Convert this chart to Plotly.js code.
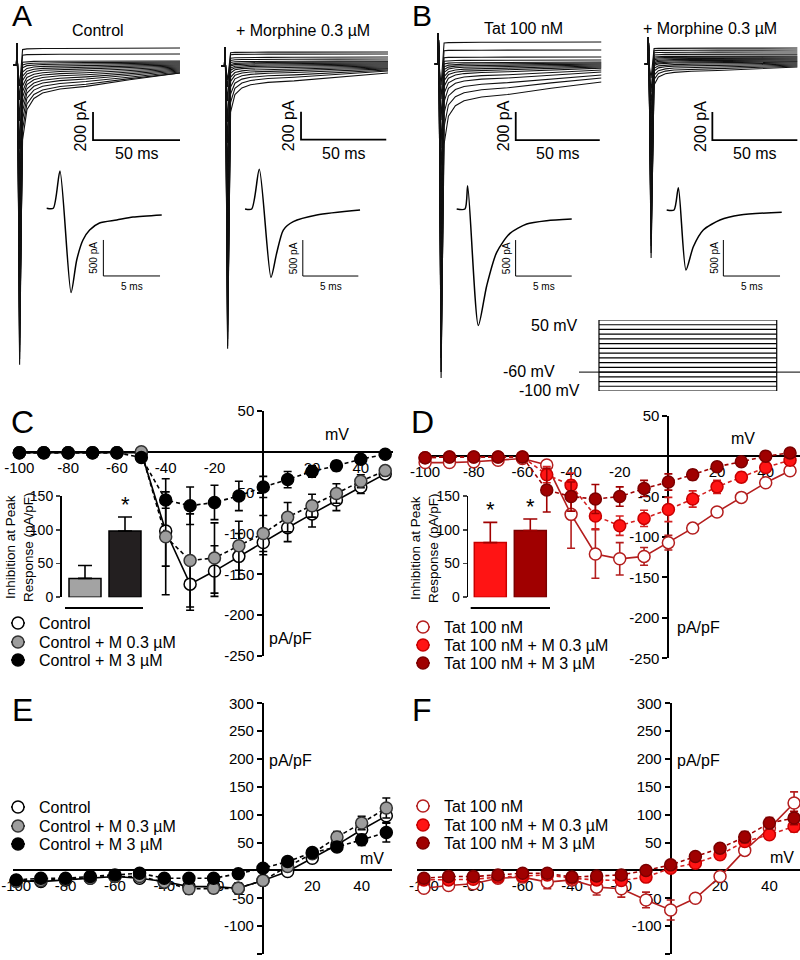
<!DOCTYPE html>
<html><head><meta charset="utf-8">
<script src="https://cdn.plot.ly/plotly-3.0.1.min.js"></script>
<style>html,body{margin:0;padding:0;background:#fff}#chart{width:800px;height:960px}</style>
</head><body><div id="chart"></div>
<script>
const FONT = 'Liberation Sans, Arial, Helvetica, sans-serif';
const W = 800, H = 960;

// ================= DATA =================
const volts = [-100,-90,-80,-70,-60,-50,-40,-30,-20,-10,0,10,20,30,40,50];
const xTickVals = [-100,-80,-60,-40,-20,20,40];
const yTicksCD = [50,-50,-100,-150,-200,-250];
const yTicksEF = [300,250,200,150,100,50,-50,-100,-150];

// C: Na+ current density (pA/pF)
const cCtrl     = [-1,-1,-1,-1,-1,-1,-97,-162,-146,-128,-111,-93,-76,-59,-43,-27];
const cCtrlErr  = [0,0,0,0,0,0,43,32,31,28,15,17,16,13,8,5];
const cM03      = [-1,-1,-1,-1,-1,0,-104,-133,-130,-115,-100,-80,-66,-51,-36,-23];
const cM03Err   = [0,0,0,0,0,0,71,57,43,30,22,18,14,12,8,5];
const cM3       = [-1,-1,-1,-1,-1,-7,-59,-66,-62,-54,-43,-34,-24,-17,-9,-3];
const cM3Err    = [0,0,0,0,0,2,10,23,21,18,13,10,7,6,5,3];
// C inset: inhibition at peak response
const cBarLabels = ['Control + M 0.3 µM','Control + M 3 µM'];
const cBarVals = [28, 98];
const cBarErr  = [19, 21];

// D
const dTat      = [-8,-8,-7,-5,-3,-11,-72,-121,-127,-124,-107,-89,-69,-51,-33,-18];
const dTatErr   = [0,0,0,0,0,0,42,30,20,11,9,5,0,0,0,0];
const dM03      = [-2,-1,-1,-1,-1,-23,-36,-74,-86,-77,-66,-53,-38,-26,-14,-5];
const dM03Err   = [0,0,0,0,0,10,15,16,12,10,15,10,8,6,5,2];
const dM3       = [-2,-1,-1,-1,-1,-42,-50,-53,-50,-40,-32,-23,-13,-7,0,4];
const dM3Err    = [0,0,0,0,0,27,18,18,12,10,10,6,5,3,2,1];
const dBarLabels = ['Tat 100 nM + M 0.3 µM','Tat 100 nM + M 3 µM'];
const dBarVals = [81, 99];
const dBarErr  = [30, 17];

// E: K+ current density
const eCtrl     = [-18,-20,-17,-14,-11,-14,-20,-29,-29,-32,-18,-2,22,46,73,98];
const eCtrlErr  = [3,3,3,3,3,3,4,6,8,8,5,4,6,8,10,12];
const eM03      = [-20,-18,-16,-14,-11,-11,-21,-33,-32,-32,-18,7,30,60,85,112];
const eM03Err   = [3,3,3,3,3,3,5,9,9,10,6,5,8,10,12,18];
const eM3       = [-17,-14,-14,-11,-8,-5,-14,-14,-14,-6,4,16,32,42,55,68];
const eM3Err    = [3,3,3,3,3,3,4,5,5,5,4,5,6,8,10,17];

// F
const fTat      = [-32,-27,-24,-14,-12,-21,-17,-30,-33,-53,-71,-50,-11,36,76,121];
const fTatErr   = [4,3,3,3,3,12,4,14,15,14,18,4,4,8,10,20];
const fM03      = [-17,-17,-16,-12,-10,-8,-14,-17,-18,-12,4,13,28,52,64,79];
const fM03Err   = [3,3,3,3,3,3,3,4,4,5,4,5,6,8,8,10];
const fM3       = [-14,-11,-11,-8,-5,-5,-12,-10,-8,0,10,25,40,60,85,94];
const fM3Err    = [3,3,3,3,3,3,3,4,4,4,5,6,8,10,10,12];

// A/B: current families (pA): peak, value 3.5 ms after step, value at end
const relaxT = [3.5, 6, 10, 15, 25, 40, 65];
const relaxF = [1, 0.55, 0.38, 0.3, 0.24, 0.2, 0.1];
const aLPeak  = [-150,-250,-400,-600,-800,-1000,-1200,-1400,-1600,-1800,-1950,-2050,-2100,-2140,-2000,-1850];
const aLEarly = [110,70,20,0,-20,-50,-80,-110,-150,-190,-230,-280,-330,-390,-460,-535];
const aLEnd   = [121,79,29,21,14,7,0,-7,-14,-21,-29,-36,-43,-50,-57,-57];
const aRPeak  = [-100,-150,-250,-400,-550,-750,-950,-1150,-1350,-1550,-1700,-1850,-1950,-2000,-2020,-1900];
const aREarly = [95,80,55,40,25,10,0,-15,-30,-50,-80,-110,-150,-200,-260,-330];
const aREnd   = [100,86,64,50,36,29,21,14,7,0,-7,-14,-21,-29,-36,-50];
const bLPeak  = [-150,-250,-400,-600,-800,-1000,-1200,-1400,-1600,-1800,-1950,-2100,-2200,-2243,-2200,-2100];
const bLEarly = [150,95,45,20,0,-20,-40,-60,-90,-120,-160,-210,-270,-350,-450,-573];
const bLEnd   = [157,100,50,29,14,7,0,-7,-14,-21,-29,-43,-57,-79,-100,-129];
const bRPeak  = [-100,-200,-300,-400,-500,-600,-700,-800,-900,-1000,-1100,-1200,-1300,-1386,-1350,-1250];
const bREarly = [110,95,80,65,50,40,30,20,10,0,-10,-30,-50,-80,-110,-150];
const bREnd   = [114,100,86,71,57,50,43,36,29,21,14,7,0,-7,-14,-21];
const capUp = {aL:157, aR:136, bL:221, bR:193};

// single action-current insets (ms, pA)
const aLInT = [0,0.58,1.17,2.15,2.65,3.2,3.79,4.66,6.18,7.62,10.15];
const aLInI = [0,0,518,-1171,-718,-440,-301,-204,-163,-122,-93];
const aRInT = [0,0.59,1.26,2.29,2.79,3.38,4.26,6.33,10.15];
const aRInI = [0,0,551,-949,-615,-292,-176,-83,-14];
const bLInT = [0,0.73,0.97,1.91,2.65,3.53,4.7,6.18,7.94,10.15];
const bLInI = [0,0,324,-1618,-1065,-601,-338,-208,-162,-139];
const bRInT = [0,0.65,1.03,1.7,2.35,3.23,4.7,6.47,10.15];
const bRInI = [0,0,310,-833,-510,-278,-139,-69,-32];

// voltage protocol
const holdV = -60;
const stepV = volts;

// ================= STYLES =================
const stCtrl    = {name:'Control', line:'#000', fill:'#fff', edge:'#000', dash:'solid'};
const stCtrlM03 = {name:'Control + M 0.3 µM', line:'#000', fill:'#9d9d9d', edge:'#333', dash:'4px,3px'};
const stCtrlM3  = {name:'Control + M 3 µM', line:'#000', fill:'#000', edge:'#000', dash:'4px,3px'};
const stTat     = {name:'Tat 100 nM', line:'#b41e1e', fill:'#fff', edge:'#b41e1e', dash:'solid'};
const stTatM03  = {name:'Tat 100 nM + M 0.3 µM', line:'#d42020', fill:'#ff1414', edge:'#c80000', dash:'4px,3px'};
const stTatM3   = {name:'Tat 100 nM + M 3 µM', line:'#a00000', fill:'#a00000', edge:'#7a0000', dash:'4px,3px'};

// ================= BUILD =================
const layout = {width:W, height:H, margin:{l:0,r:0,t:0,b:0}, paper_bgcolor:'#fff', plot_bgcolor:'rgba(0,0,0,0)',
  showlegend:false, font:{family:FONT, size:15, color:'#000'}, annotations:[], shapes:[]};
const traces = [];
const xdom = (l, r) => [l / W, r / W];
const ydom = (t, b) => [1 - b / H, 1 - t / H];
let axN = 0;
function addAxes(xl, xr, yt, yb, xRange, yRange) {
  axN++;
  const s = axN === 1 ? '' : String(axN);
  const a = {x:'x'+s, y:'y'+s, xk:'xaxis'+s, yk:'yaxis'+s, xd:xdom(xl,xr), yd:ydom(yt,yb), xr:xRange, yr:yRange};
  layout[a.xk] = {domain:a.xd, range:xRange, anchor:a.y, visible:false, fixedrange:true, automargin:false, showgrid:false, zeroline:false};
  layout[a.yk] = {domain:a.yd, range:yRange, anchor:a.x, visible:false, fixedrange:true, automargin:false, showgrid:false, zeroline:false};
  return a;
}
function txt(x, y, text, size, extra) {
  layout.annotations.push(Object.assign({xref:'paper', yref:'paper', x:x/W, y:1-y/H, text, showarrow:false,
    xanchor:'center', yanchor:'middle', font:{size, family:FONT, color:'#000'}}, extra || {}));
}
function ivPanel(xl, xr, yt, yb, xRange, yRange, yTicks) {
  const a = addAxes(xl, xr, yt, yb, xRange, yRange);
  const yZero = a.yd[0] + (0 - yRange[0]) / (yRange[1] - yRange[0]) * (a.yd[1] - a.yd[0]);
  const xZero = a.xd[0] + (0 - xRange[0]) / (xRange[1] - xRange[0]) * (a.xd[1] - a.xd[0]);
  Object.assign(layout[a.xk], {visible:true, anchor:'free', position:yZero, showline:true, linewidth:2, linecolor:'#000',
    ticks:'', tickvals:xTickVals, ticktext:xTickVals.map(String), tickfont:{size:15}, ticklabelstandoff:2, layer:'below traces'});
  Object.assign(layout[a.yk], {visible:true, anchor:'free', position:xZero, showline:true, linewidth:2, linecolor:'#000',
    ticks:'outside', ticklen:5, tickwidth:2, tickcolor:'#000', tickvals:yTicks, ticktext:yTicks.map(String),
    tickfont:{size:15}, layer:'below traces'});
  return a;
}
function ivSeries(a, y, err, st) {
  traces.push({type:'scatter', mode:'lines+markers', name:st.name, x:volts, y:y, xaxis:a.x, yaxis:a.y, cliponaxis:false,
    line:{color:st.line, width:1.6, dash:st.dash},
    marker:{size:12, color:st.fill, line:{color:st.edge, width:1.5}},
    error_y:{type:'data', array:err, visible:true, color:st.line, thickness:1.6, width:4}, hoverinfo:'skip'});
}
function barInset(xl, xr, yt, yb, xRange, labels, vals, errs, fills, edges, errColor) {
  const a = addAxes(xl, xr, yt, yb, xRange, [0,150]);
  Object.assign(layout[a.yk], {visible:true, anchor:'free', position:xl/W, showline:true, linewidth:1.6, linecolor:'#000',
    ticks:'outside', ticklen:4, tickwidth:1.6, tickvals:[0,50,100,150], tickfont:{size:14}});
  traces.push({type:'bar', x:[0,1], y:vals, width:0.8, xaxis:a.x, yaxis:a.y, text:labels, textposition:'none', hoverinfo:'skip',
    marker:{color:fills, line:{color:edges, width:1.5}},
    error_y:{type:'data', array:errs, arrayminus:[0,0], visible:true, color:errColor, thickness:1.6, width:7}});
  return a;
}
function legendRow(cx, cy, st) {
  layout.shapes.push({type:'line', xref:'paper', yref:'paper', x0:(cx-7)/W, x1:(cx+7)/W, y0:1-cy/H, y1:1-cy/H, line:{color:st.line, width:1.6}});
  layout.shapes.push({type:'circle', xref:'paper', yref:'paper', xsizemode:'pixel', ysizemode:'pixel', xanchor:cx/W, yanchor:1-cy/H,
    x0:-6, x1:6, y0:-6, y1:6, fillcolor:st.fill, line:{color:st.edge, width:1.5}});
  txt(cx + 19, cy, st.name, 16, {xanchor:'left'});
}
function currentFamily(a, peaks, early, ends, up, tEnd) {
  const xs = [], ys = [];
  for (let i = 0; i < peaks.length; i++) {
    const t = [-2, 0, 0.2, 0.6, 1.8].concat(relaxT, [tEnd]);
    const v = [0, 0, up, 0, peaks[i]].concat(relaxF.map(f => ends[i] + (early[i] - ends[i]) * f), [ends[i]]);
    xs.push(...t, null); ys.push(...v, null);
  }
  traces.push({type:'scatter', mode:'lines', x:xs, y:ys, xaxis:a.x, yaxis:a.y, cliponaxis:false,
    line:{color:'#111', width:1.1}, hoverinfo:'skip', connectgaps:false});
}
function scaleBar(a, x0, y0, dx, dy, labX, labY, size, lw) {
  traces.push({type:'scatter', mode:'lines', x:[x0, x0, x0 + dx], y:[y0 + dy, y0, y0], xaxis:a.x, yaxis:a.y,
    cliponaxis:false, line:{color:'#000', width:lw}, hoverinfo:'skip'});
  layout.annotations.push({xref:a.x, yref:a.y, x:x0, y:y0 + dy/2, text:labY, textangle:-90, showarrow:false,
    xanchor:'right', yanchor:'middle', xshift:-2, font:{size, family:FONT, color:'#000'}});
  layout.annotations.push({xref:a.x, yref:a.y, x:x0 + dx/2, y:y0, text:labX, showarrow:false,
    xanchor:'center', yanchor:'top', yshift:-3, font:{size, family:FONT, color:'#000'}});
}
function waveform(a, t, I) {
  traces.push({type:'scatter', mode:'lines', x:t, y:I, xaxis:a.x, yaxis:a.y, cliponaxis:false,
    line:{color:'#000', width:1.5, shape:'spline', smoothing:0.7}, hoverinfo:'skip'});
}

// ---- Panel C ----
const C = ivPanel(15, 393, 411, 656, [-101.8, 53.2], [-250, 50], yTicksCD);
ivSeries(C, cCtrl, cCtrlErr, stCtrl);
ivSeries(C, cM03, cM03Err, stCtrlM03);
ivSeries(C, cM3, cM3Err, stCtrlM3);
const Ci = barInset(60, 150, 496, 597.3, [-0.625, 1.625], cBarLabels, cBarVals, cBarErr, ['#a3a3a3','#231f20'], ['#000','#000'], '#000');
layout.annotations.push({xref:Ci.x, yref:Ci.y, x:1, y:cBarVals[1] + cBarErr[1], text:'*', showarrow:false, yanchor:'bottom', yshift:-2, font:{size:22, family:FONT}});
layout.shapes.push({type:'line', xref:'paper', yref:'paper', x0:65/W, x1:143/W, y0:1-608/H, y1:1-608/H, line:{color:'#000', width:1.8}});
txt(19, 547, 'Inhibition at Peak<br>Response (pA/pF)', 13.5, {textangle:-90});
txt(337, 434, 'mV', 16); txt(290, 638, 'pA/pF', 16);
legendRow(18, 623, stCtrl); legendRow(18, 642, stCtrlM03); legendRow(18, 660, stCtrlM3);

// ---- Panel D ----
const D = ivPanel(420, 800, 415.7, 658.3, [-102.1, 54.1], [-250, 50], yTicksCD);
ivSeries(D, dTat, dTatErr, stTat);
ivSeries(D, dM03, dM03Err, stTatM03);
ivSeries(D, dM3, dM3Err, stTatM3);
const Di = barInset(466.7, 556.7, 496, 597.3, [-0.59, 1.66], dBarLabels, dBarVals, dBarErr, ['#ff1414','#a00000'], ['#c80000','#7a0000'], '#a00000');
layout.annotations.push({xref:Di.x, yref:Di.y, x:0, y:dBarVals[0] + dBarErr[0], text:'*', showarrow:false, yanchor:'bottom', yshift:-2, font:{size:22, family:FONT}});
layout.annotations.push({xref:Di.x, yref:Di.y, x:1, y:dBarVals[1] + dBarErr[1], text:'*', showarrow:false, yanchor:'bottom', yshift:-2, font:{size:22, family:FONT}});
layout.shapes.push({type:'line', xref:'paper', yref:'paper', x0:470.7/W, x1:550/W, y0:1-608/H, y1:1-608/H, line:{color:'#000', width:1.8}});
txt(424, 548, 'Inhibition at Peak<br>Response (pA/pF)', 13.5, {textangle:-90});
txt(743, 438, 'mV', 16); txt(698, 627, 'pA/pF', 16);
legendRow(423, 627, stTat); legendRow(423, 645, stTatM03); legendRow(423, 663, stTatM3);

// ---- Panel E ----
const E = ivPanel(13, 392, 703.3, 954, [-101.3, 52.3], [-150, 300], yTicksEF);
ivSeries(E, eCtrl, eCtrlErr, stCtrl);
ivSeries(E, eM03, eM03Err, stCtrlM03);
ivSeries(E, eM3, eM3Err, stCtrlM3);
txt(290, 760, 'pA/pF', 16); txt(372, 858, 'mV', 16);
legendRow(18, 807, stCtrl); legendRow(18, 826, stCtrlM03); legendRow(18, 844, stCtrlM3);

// ---- Panel F ----
const F = ivPanel(417, 800, 703.3, 954, [-102.8, 52.4], [-150, 300], yTicksEF);
ivSeries(F, fTat, fTatErr, stTat);
ivSeries(F, fM03, fM03Err, stTatM03);
ivSeries(F, fM3, fM3Err, stTatM3);
txt(698, 760, 'pA/pF', 16); txt(782, 857, 'mV', 16);
legendRow(423, 806, stTat); legendRow(423, 825, stTatM03); legendRow(423, 843, stTatM3);

// ---- Panels A / B : current families ----
const AL = addAxes(13, 180, 30, 375, [-2, 94], [-2214, 250]);
currentFamily(AL, aLPeak, aLEarly, aLEnd, capUp.aL, 94);
scaleBar(AL, 44, -536, 50, 200, '50 ms', '200 pA', 16, 1.8);
const AR = addAxes(221, 388, 30, 375, [-2, 94], [-2207, 257]);
currentFamily(AR, aRPeak, aREarly, aREnd, capUp.aR, 94);
scaleBar(AR, 44, -526, 49, 200, '50 ms', '200 pA', 16, 1.8);
const BL = addAxes(434.5, 601.5, 30, 385, [-2, 94], [-2293, 243]);
currentFamily(BL, bLPeak, bLEarly, bLEnd, capUp.bL, 94);
scaleBar(BL, 44.7, -543, 48.3, 200, '50 ms', '200 pA', 16, 1.8);
const BR = addAxes(644.5, 797.6, 30, 385, [-2, 86], [-2293, 243]);
currentFamily(BR, bRPeak, bREarly, bREnd, capUp.bR, 86);
scaleBar(BR, 37, -543, 49, 200, '50 ms', '200 pA', 16, 1.8);

// insets
const ALi = addAxes(40, 170, 160, 300, [-0.59, 10.88], [-1274, 671]);
waveform(ALi, aLInT, aLInI); scaleBar(ALi, 5, -940, 5, 500, '5 ms', '500 pA', 10, 1);
const ARi = addAxes(238, 370, 160, 300, [-0.62, 11.03], [-1264, 681]);
waveform(ARi, aRInT, aRInI); scaleBar(ARi, 5.1, -931, 4.9, 500, '5 ms', '500 pA', 10, 1);
const BLi = addAxes(450, 580, 160, 340, [-0.59, 10.88], [-1819, 681]);
waveform(BLi, bLInT, bLInI); scaleBar(BLi, 5.2, -931, 4.95, 500, '5 ms', '500 pA', 10, 1);
const BRi = addAxes(660, 790, 160, 300, [-0.59, 10.88], [-1250, 694]);
waveform(BRi, bRInT, bRInI); scaleBar(BRi, 5, -917, 5, 500, '5 ms', '500 pA', 10, 1);

// voltage protocol
const P = addAxes(579, 800, 320, 391, [-11.25, 113.1], [-100, 50]);
(function(){
  const xs = [], ys = [];
  stepV.forEach(v => { xs.push(0, 100, null); ys.push(v, v, null); });
  xs.push(0, 0, null, 100, 100); ys.push(-100, 50, null, -100, 50);
  traces.push({type:'scatter', mode:'lines', x:[-11.25, 113.1], y:[holdV, holdV], xaxis:P.x, yaxis:P.y, cliponaxis:false, line:{color:'#333', width:1.2}, hoverinfo:'skip'});
  traces.push({type:'scatter', mode:'lines', x:xs, y:ys, xaxis:P.x, yaxis:P.y, cliponaxis:false, line:{color:'#000', width:1.2}, hoverinfo:'skip'});
})();
txt(554, 325, '50 mV', 16); txt(529, 371, '-60 mV', 16); txt(549, 390, '-100 mV', 16);

// titles and panel letters
txt(98, 30, 'Control', 16); txt(303, 30, '+ Morphine 0.3 µM', 16);
txt(523, 29, 'Tat 100 nM', 16); txt(710, 29, '+ Morphine 0.3 µM', 16);
txt(22, 0, 'A', 30, {yanchor:'top', yshift:3});
txt(422, 0, 'B', 30, {yanchor:'top', yshift:3});
[['C',22,422],['D',422,422],['E',22,710],['F',422,710]].forEach(p => txt(p[1], p[2], p[0], 32));

Plotly.newPlot('chart', traces, layout, {staticPlot:true, displayModeBar:false});
</script>
</body></html>
